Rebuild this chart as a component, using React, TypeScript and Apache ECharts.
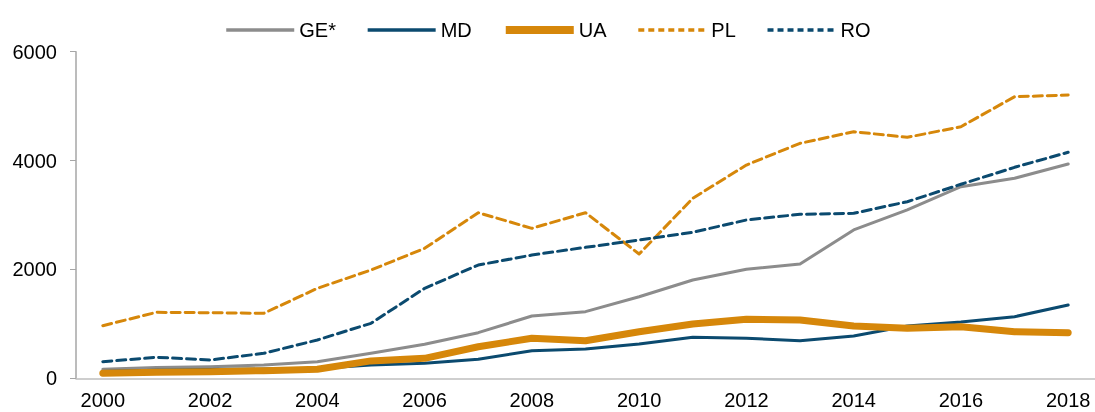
import React, { useEffect, useRef } from "react";
import * as echarts from "echarts";

const years = ["2000","2001","2002","2003","2004","2005","2006","2007","2008","2009","2010","2011","2012","2013","2014","2015","2016","2017","2018"];
const ge = [165, 200, 213, 244, 305, 459, 625, 838, 1144, 1224, 1499, 1806, 2002, 2100, 2725, 3093, 3520, 3674, 3937];
const md = [125, 150, 160, 170, 180, 244, 275, 349, 507, 538, 630, 753, 735, 690, 777, 961, 1034, 1132, 1347];
const ua = [92, 110, 121, 140, 165, 320, 367, 580, 735, 690, 856, 997, 1084, 1071, 961, 918, 948, 856, 838];
const pl = [966, 1212, 1205, 1194, 1653, 1989, 2388, 3042, 2755, 3042, 2283, 3307, 3918, 4317, 4530, 4427, 4622, 5173, 5204];
const ro = [305, 386, 336, 459, 704, 1010, 1653, 2081, 2264, 2406, 2541, 2682, 2908, 3013, 3031, 3244, 3564, 3876, 4152];
const yTicks = [0, 2000, 4000, 6000];

const GRAY = "#8c8c8c";
const NAVY = "#0b4a6f";
const ORANGE = "#d6870a";

export default function App() {
  const ref = useRef<HTMLDivElement>(null);
  useEffect(() => {
    const chart = echarts.init(ref.current!, null, { renderer: "svg" });
    const font = "'Liberation Sans', Arial, sans-serif";
    const defs = [
      { name: "GE*", data: ge, color: GRAY, width: 3, dashed: false },
      { name: "MD", data: md, color: NAVY, width: 3, dashed: false },
      { name: "UA", data: ua, color: ORANGE, width: 7, dashed: false },
      { name: "PL", data: pl, color: ORANGE, width: 3, dashed: true },
      { name: "RO", data: ro, color: NAVY, width: 3, dashed: true },
    ];
    chart.setOption({
      animation: false,
      textStyle: { fontFamily: font },
      legend: {
        top: 15,
        left: "center",
        itemWidth: 68,
        itemHeight: 14,
        itemGap: 30,
        itemStyle: { opacity: 0 },
        textStyle: { fontSize: 20, color: "#000", fontFamily: font },
        data: defs.map((d) => ({
          name: d.name,
          itemStyle: { opacity: 0 },
          lineStyle: { width: d.width === 7 ? 8 : 3.5, type: d.dashed ? [6, 4] : "solid", cap: "butt" },
        })),
      },
      grid: { left: 76, right: -3, top: 51.7, bottom: 33.7, containLabel: false },
      xAxis: {
        type: "category",
        data: years,
        boundaryGap: true,
        axisLine: { lineStyle: { color: "#bfbfbf", width: 1.5 } },
        axisTick: { show: false },
        axisLabel: { interval: 1, fontSize: 20, color: "#000", margin: 12, fontFamily: font },
      },
      yAxis: {
        type: "value",
        min: yTicks[0],
        max: yTicks[yTicks.length - 1],
        interval: 2000,
        splitLine: { show: false },
        axisLine: { show: true, lineStyle: { color: "#a6a6a6", width: 1.5 } },
        axisTick: { show: true, length: 6, lineStyle: { color: "#a6a6a6" } },
        axisLabel: { fontSize: 20, color: "#000", margin: 19, fontFamily: font, formatter: (v: number) => String(v) },
      },
      series: defs.map((d) => ({
        name: d.name,
        type: "line",
        data: d.data,
        symbol: "none",
        showSymbol: false,
        lineStyle: { color: d.color, width: d.width, type: d.dashed ? [9, 5] : "solid", cap: "round", join: "round" },
        itemStyle: { color: d.color },
      })),
    });
    return () => chart.dispose();
  }, []);
  return <div ref={ref} style={{ position: "fixed", left: 0, top: 0, width: 1095, height: 412 }} />;
}
